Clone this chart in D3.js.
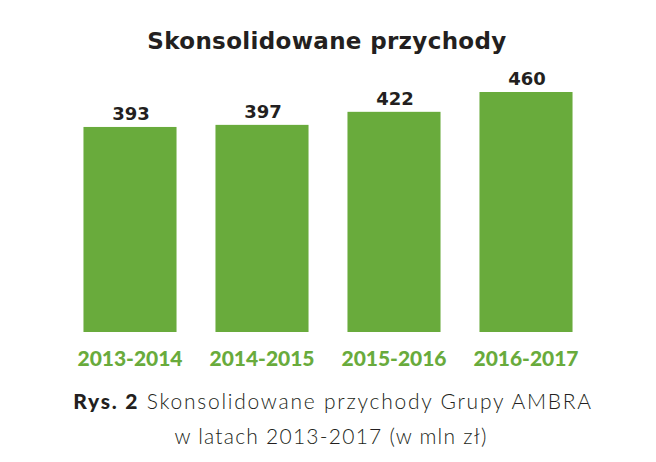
<!DOCTYPE html>
<html><head><meta charset="utf-8">
<script src="https://cdn.jsdelivr.net/npm/d3@7"></script>
<style>body{margin:0;background:#fff}svg{display:block}</style>
</head><body>
<script>
const categories = ["2013-2014","2014-2015","2015-2016","2016-2017"];
const values = [393, 397, 422, 460];
const title = "Skonsolidowane przychody";
const captionBold = "Rys. 2";
const captionLine1 = " Skonsolidowane przychody Grupy AMBRA";
const captionLine2 = "w latach 2013-2017 (w mln zł)";

const W = 656, H = 462;
const svg = d3.select("body").append("svg").attr("width", W).attr("height", H);
const green = "#69ab3c", dark = "#231f20";

// stretch text to a target width by adjusting letter-spacing
function fit(sel, target) {
  sel.each(function () {
    const t = d3.select(this);
    const len = this.getComputedTextLength();
    const n = this.textContent.length;
    if (n > 1) t.attr("letter-spacing", (target - len) / (n - 1));
  });
}

const x = d3.scaleBand().domain(categories).range([64, 592]).paddingInner(0.295).paddingOuter(0.1475);
const y = d3.scaleLinear().domain([0, 460]).range([332, 92]);

svg.append("text").attr("x", 327).attr("y", 49).attr("text-anchor", "middle")
  .attr("font-family", "DejaVu Sans").attr("font-weight", 700).attr("font-size", 23)
  .attr("fill", dark).text(title).call(fit, 359);

svg.selectAll("rect.bar").data(values).join("rect").attr("class", "bar")
  .attr("x", (d, i) => x(categories[i])).attr("width", x.bandwidth())
  .attr("y", d => y(d)).attr("height", d => y(0) - y(d)).attr("fill", green);

svg.selectAll("text.val").data(values).join("text").attr("class", "val")
  .attr("x", (d, i) => x(categories[i]) + x.bandwidth() / 2 + 1).attr("y", d => y(d) - 7)
  .attr("text-anchor", "middle").attr("font-family", "DejaVu Sans").attr("font-weight", 700)
  .attr("font-size", 18).attr("fill", dark).text(d => d);

const xAxis = svg.append("g").attr("transform", "translate(0,366)")
  .call(d3.axisBottom(x).tickSize(0).tickPadding(0));
xAxis.select(".domain").remove();
xAxis.selectAll("text").attr("dy", 0).attr("font-family", "Lato").attr("font-weight", 900)
  .attr("font-size", 21).attr("fill", green).call(fit, 105);

const cap = svg.append("text").attr("x", 333).attr("y", 409).attr("text-anchor", "middle")
  .attr("font-family", "Lato").attr("font-size", 21).attr("fill", dark);
cap.append("tspan").attr("font-weight", 900).text(captionBold);
cap.append("tspan").attr("font-weight", 300).text(captionLine1);
cap.call(fit, 518);
svg.append("text").attr("x", 331).attr("y", 444).attr("text-anchor", "middle")
  .attr("font-family", "Lato").attr("font-weight", 300).attr("font-size", 21).attr("fill", dark)
  .text(captionLine2).call(fit, 312);
</script>
</body></html>
